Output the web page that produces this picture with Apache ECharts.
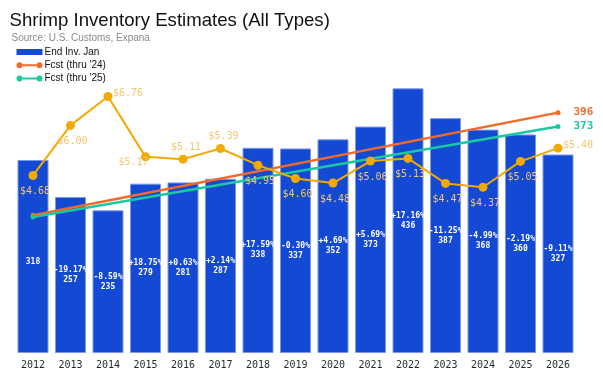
<!DOCTYPE html>
<html><head><meta charset="utf-8">
<script src="https://cdn.jsdelivr.net/npm/echarts@6/dist/echarts.min.js"></script>
<style>html,body{margin:0;padding:0;background:#fff}#c{width:603px;height:387px}</style>
</head><body><div id="c"></div>
<script>
const years = ['2012','2013','2014','2015','2016','2017','2018','2019','2020','2021','2022','2023','2024','2025','2026'];
const endInv = [318,257,235,279,281,287,338,337,352,373,436,387,368,360,327];
const pctChange = ['', '-19.17%','-8.59%','+18.75%','+0.63%','+2.14%','+17.59%','-0.30%','+4.69%','+5.69%','+17.16%','-11.25%','-4.99%','-2.19%','-9.11%'];
const price = [4.68,6.00,6.76,5.17,5.11,5.39,4.95,4.60,4.48,5.06,5.13,4.47,4.37,5.05,5.40];
const fcst24 = [227,null,null,null,null,null,null,null,null,null,null,null,null,null,396];
const fcst25 = [224,null,null,null,null,null,null,null,null,null,null,null,null,null,373];

const MONO = '"DejaVu Sans Mono", monospace';
const SANS = '"Liberation Sans", Arial, sans-serif';
const C_BAR = '#1349d3', C_24 = '#f26b2a', C_25 = '#19c9a0', C_P = '#f2a900', C_PL = '#f6c66e';

// label placement per point (style only)
const placeOf = i => (i === 2 || i === 14) ? 'right' : (i === 3 ? 'leftdown' : ((i === 4 || i === 5) ? 'up' : 'down'));
const offsets = {down:[2,16], up:[3,-12], right:[20,-3], leftdown:[-12,6]};
const priceData = price.map((v,i) => ({value: v, label: {offset: offsets[placeOf(i)]}}));

const endLabel = (color) => ({show: true, position: 'right', distance: 13, fontFamily: MONO, fontWeight: 'bold', fontSize: 11, color: color,
  formatter: p => p.dataIndex === years.length - 1 ? String(p.value) : ''});

const lineIcon = 'path://M0,3A3,3 0 1,1 6,3A3,3 0 1,1 0,3ZM6,2L20,2L20,4L6,4ZM20,3A3,3 0 1,1 26,3A3,3 0 1,1 20,3Z';

const chart = echarts.init(document.getElementById('c'), null, {renderer: 'canvas'});
chart.setOption({
  animation: false,
  title: [
    {text: 'Shrimp Inventory Estimates (All Types)', left: 4.5, top: 6.5, textStyle: {fontFamily: SANS, fontSize: 18.6, fontWeight: 'normal', color: '#111'}},
    {text: 'Source: U.S. Customs, Expana', left: 6.5, top: 28.5, textStyle: {fontFamily: SANS, fontSize: 10, fontWeight: 'normal', color: '#8a8a8a'}}
  ],
  legend: {
    orient: 'vertical', left: 11.5, top: 42, itemWidth: 26, itemHeight: 6, itemGap: 3.3,
    textStyle: {fontFamily: SANS, fontSize: 10, lineHeight: 10, color: '#111', padding: [0,0,0,-3]},
    data: [
      {name: 'End Inv. Jan', icon: 'rect', itemStyle: {color: C_BAR, borderWidth: 0}},
      {name: "Fcst (thru '24)", icon: lineIcon, itemStyle: {color: C_24, borderWidth: 0}},
      {name: "Fcst (thru '25)", icon: lineIcon, itemStyle: {color: C_25, borderWidth: 0}}
    ]
  },
  grid: {left: 14.25, right: 26.25, top: 49.5, bottom: 34},
  xAxis: {
    type: 'category', data: years, boundaryGap: true,
    axisLine: {show: false}, axisTick: {show: false},
    axisLabel: {fontFamily: MONO, fontSize: 10, color: '#1e2b26', margin: 7}
  },
  yAxis: [
    {type: 'value', min: 0, max: 500, show: false, splitLine: {show: false}},
    {type: 'value', min: 0, max: 8, show: false, splitLine: {show: false}}
  ],
  series: [
    {
      name: 'End Inv. Jan', type: 'bar', data: endInv, barWidth: 31,
      itemStyle: {color: C_BAR, borderColor: '#7b98ea', borderWidth: 1},
      label: {show: true, position: 'inside', fontFamily: MONO, fontWeight: 'bold', fontSize: 8, lineHeight: 10, color: '#fff',
        formatter: p => pctChange[p.dataIndex] + '\n' + p.value}
    },
    {
      name: "Fcst (thru '24)", type: 'line', data: fcst24, connectNulls: true, z: 3,
      symbol: 'circle', symbolSize: 5, showSymbol: true,
      lineStyle: {color: C_24, width: 2.5}, itemStyle: {color: C_24},
      label: endLabel(C_24)
    },
    {
      name: "Fcst (thru '25)", type: 'line', data: fcst25, connectNulls: true, z: 3,
      symbol: 'circle', symbolSize: 5, showSymbol: true,
      lineStyle: {color: C_25, width: 2.5}, itemStyle: {color: C_25},
      label: endLabel(C_25)
    },
    {
      name: 'Price', type: 'line', yAxisIndex: 1, data: priceData, z: 4,
      symbol: 'circle', symbolSize: 9,
      lineStyle: {color: C_P, width: 2}, itemStyle: {color: C_P},
      label: {show: true, position: 'inside', fontFamily: MONO, fontSize: 10, color: C_PL,
        formatter: p => '$' + Number(p.value).toFixed(2)}
    }
  ]
});
</script></body></html>
